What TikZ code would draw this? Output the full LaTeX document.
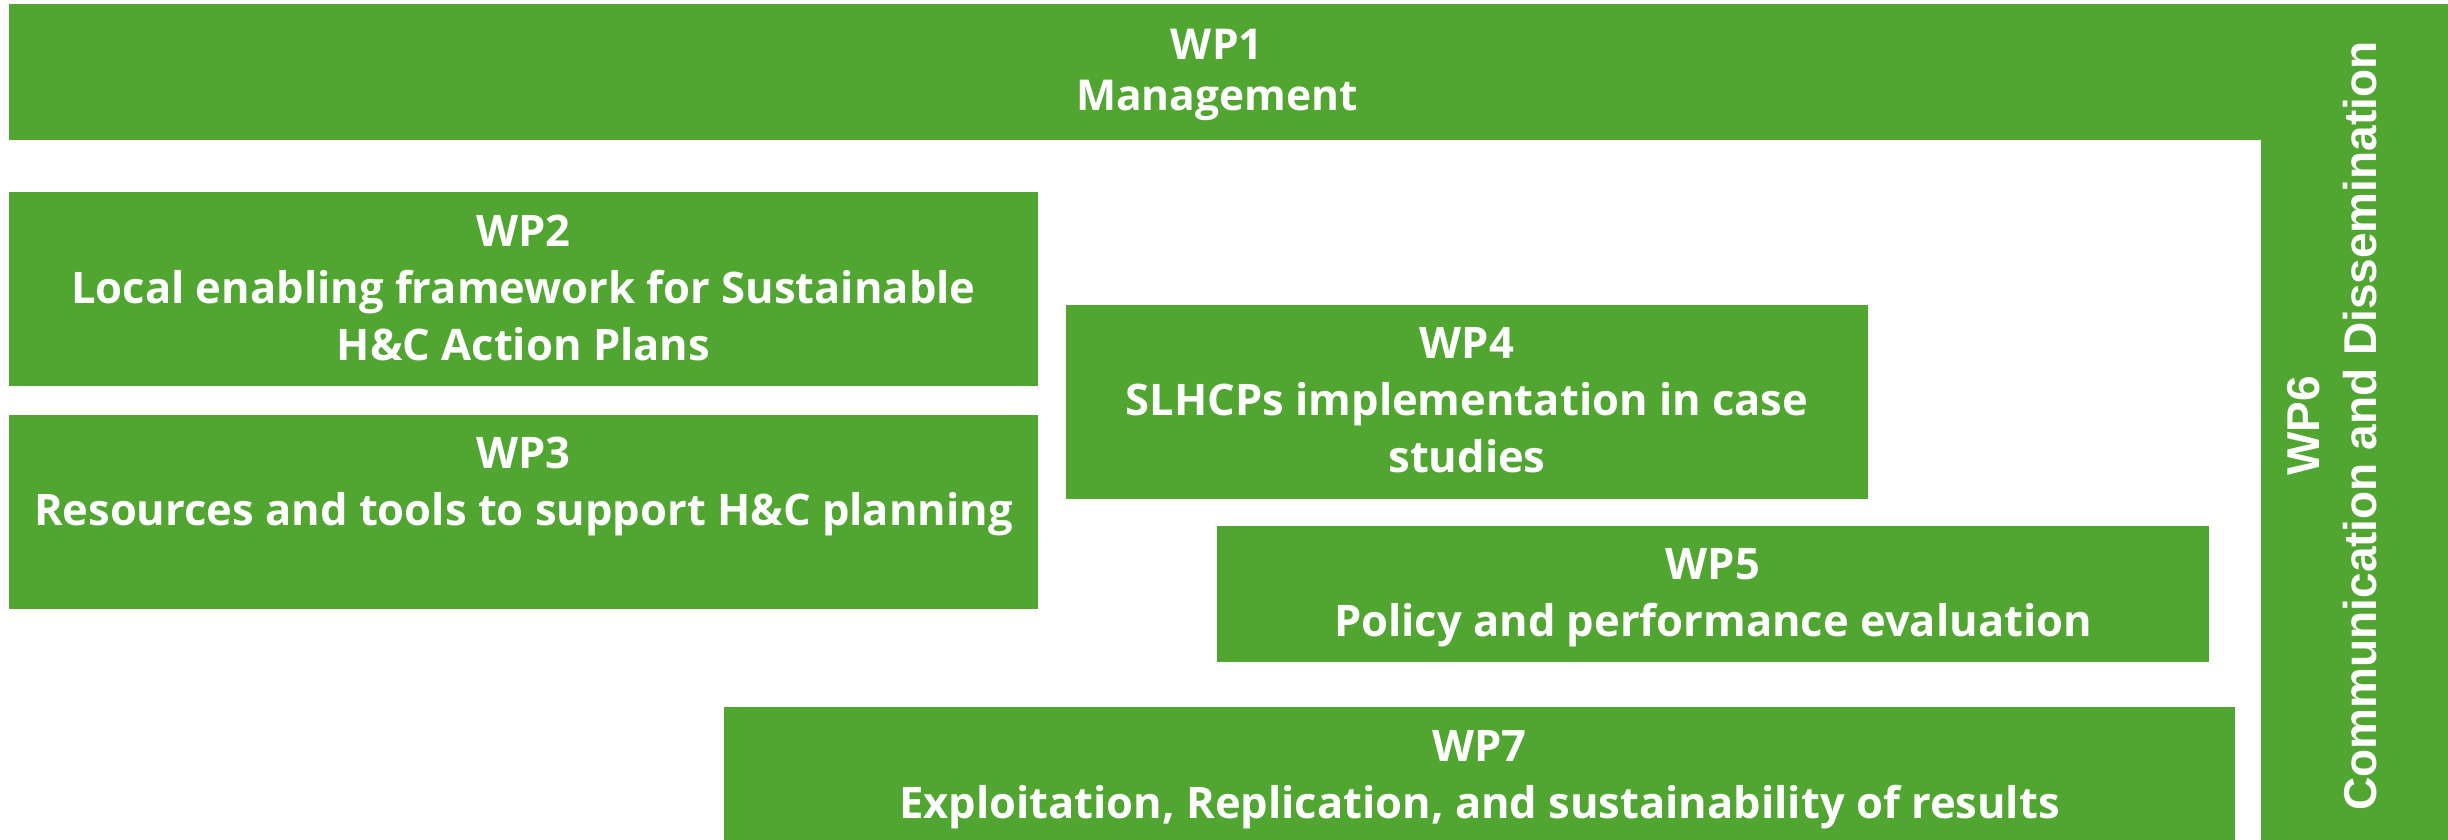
\documentclass[tikz,border=0pt]{standalone}
\usepackage{fontspec}
\setmainfont{Open Sans}
\newfontfamily\wpsixfont{Liberation Sans}
\definecolor{wpgreen}{RGB}{80,166,48}
\begin{document}
\begin{tikzpicture}[x=1pt,y=-1pt,
  wpbox/.style={fill=wpgreen,inner sep=0pt,outer sep=0pt},
  wptext/.style={text=white,font=\fontsize{43.5}{57}\selectfont\bfseries,align=center,inner sep=0pt,anchor=north}]
\useasboundingbox (0,0) rectangle (2448,840);
% WP1 and WP6 (L shape)
\fill[wpgreen] (9,4) rectangle (2448,140);
\fill[wpgreen] (2261,140) rectangle (2448,840);
\node[wptext,font=\fontsize{42.5}{51}\selectfont\bfseries] (wp1) at (1217,29) {WP1\\Management};
\node[text=white,font=\wpsixfont\fontsize{46}{57}\selectfont\bfseries,align=center,inner sep=0pt,rotate=90] (wp6) at (2332,426) {WP6\\Communication and Dissemination};
% WP2
\node[wpbox,minimum width=1029pt,minimum height=194pt] (b2) at (523.5,289) {};
\node[wptext] (wp2) at (523.5,215) {WP2\\Local enabling framework for Sustainable\\H\&C Action Plans};
% WP3
\node[wpbox,minimum width=1029pt,minimum height=194pt] (b3) at (523.5,512) {};
\node[wptext] (wp3) at (523.5,437) {WP3\\Resources and tools to support H\&C planning};
% WP4
\node[wpbox,minimum width=802pt,minimum height=194pt] (b4) at (1467,402) {};
\node[wptext] (wp4) at (1467,327) {WP4\\SLHCPs implementation in case\\studies};
% WP5
\node[wpbox,minimum width=992pt,minimum height=136pt] (b5) at (1713,594) {};
\node[wptext] (wp5) at (1713,548) {WP5\\Policy and performance evaluation};
% WP7
\node[wpbox,minimum width=1511pt,minimum height=133pt] (b7) at (1479.5,773.5) {};
\node[wptext] (wp7) at (1479.5,730) {WP7\\Exploitation, Replication, and sustainability of results};
\end{tikzpicture}
\end{document}
